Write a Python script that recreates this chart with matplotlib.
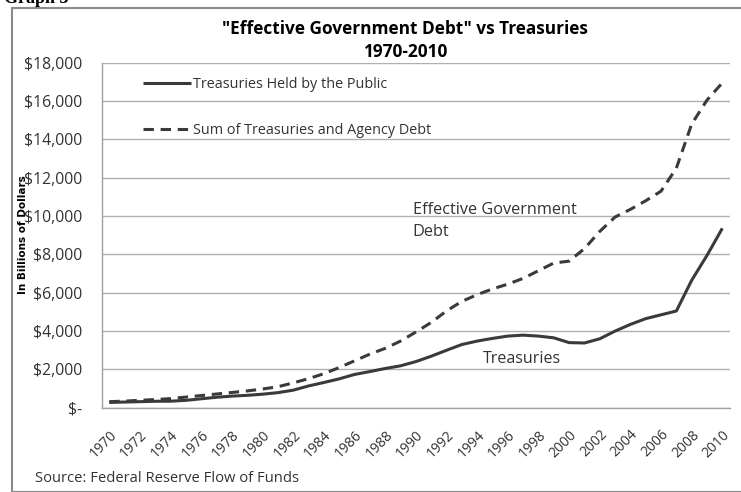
import numpy as np
import matplotlib
matplotlib.use("Agg")
import matplotlib.pyplot as plt
from matplotlib.patches import Rectangle

plt.rcParams['font.family'] = ['Open Sans', 'DejaVu Sans']

years = list(range(1970, 2011))

# Treasuries held by the public, billions of dollars
treasuries = [280, 300, 320, 340, 345, 390, 470, 550, 610, 650,
              710, 790, 920, 1140, 1320, 1510, 1740, 1890, 2050, 2190,
              2410, 2690, 3000, 3300, 3480, 3620, 3740, 3790, 3740, 3650,
              3400, 3380, 3600, 4000, 4350, 4650, 4850, 5050, 6650, 7950,
              9360]

# Treasuries + agency debt
effective = [320, 350, 390, 430, 480, 560, 640, 720, 800, 880,
             980, 1100, 1300, 1520, 1780, 2100, 2450, 2800, 3100, 3480,
             3950, 4450, 5050, 5550, 5900, 6200, 6450, 6750, 7150, 7550,
             7650, 8300, 9200, 9950, 10350, 10800, 11300, 12500, 14800, 16050,
             16950]

yticks = list(range(0, 18001, 2000))
ytick_labels = ["$-" if v == 0 else "${:,}".format(v) for v in yticks]

W, H = 741, 492
fig = plt.figure(figsize=(W / 100, H / 100), dpi=100)

# outer frame of the chart object
fig.patches.append(Rectangle((12 / W, 0), 1, 1 - 8 / H, transform=fig.transFigure,
                             fill=False, edgecolor='#8a8a8a', linewidth=1.5))
fig.text(4 / W, 1 - 3 / H, "Graph 3", family='Liberation Serif', weight='bold',
         fontsize=13, va='baseline', ha='left')

ax = fig.add_axes([101.7 / W, 1 - 407.8 / H, (730 - 101.7) / W, 345.1 / H])

x = np.arange(len(years))
dark = '#3a3a3a'
ax.plot(x, treasuries, color=dark, linewidth=2.2, solid_capstyle='butt',
        label='Treasuries Held by the Public')
ax.plot(x, effective, color=dark, linewidth=2.2, dashes=(3.4, 2.2),
        label='Sum of Treasuries and Agency Debt')

ax.set_xlim(-0.5, len(years) - 0.5)
ax.set_ylim(0, 18000)
ax.set_yticks(yticks)
ax.set_yticklabels(ytick_labels, fontsize=11.3, color='#333333')
ax.set_xticks(x[::2])
ax.set_xticklabels([str(y) for y in years[::2]], rotation=45, ha='right',
                   rotation_mode='anchor', fontsize=10, color='#333333')
ax.tick_params(length=0)
ax.tick_params(axis='y', pad=14)
ax.tick_params(axis='x', pad=14)

ax.grid(axis='y', color='#b0b0b0', linewidth=1)
ax.set_axisbelow(True)
for s in ['top', 'right']:
    ax.spines[s].set_visible(False)
for s in ['left', 'bottom']:
    ax.spines[s].set_color('#a0a0a0')
    ax.spines[s].set_linewidth(1)

ax.legend(loc='upper left', bbox_to_anchor=(0.045, 0.995), frameon=False,
          fontsize=10.4, handlelength=3.3, handletextpad=0.15, labelspacing=2.1,
          labelcolor='#333333')

ax.text(19.8, 10750, "Effective Government\nDebt", fontsize=11.7, color='#333333',
        va='top', ha='left', linespacing=1.55)
ax.text(24.4, 2550, "Treasuries", fontsize=11.5, color='#333333', va='center', ha='left')

fig.text(405 / W, 1 - 40.5 / H, '"Effective Government Debt" vs Treasuries\n1970-2010',
         ha='center', va='center', fontsize=12.4, weight='bold', linespacing=1.4)

fig.text(35 / W, 1 - 478 / H, "Source: Federal Reserve Flow of Funds",
         fontsize=10.6, color='#333333', va='center', ha='left')

fig.text(23 / W, 1 - 235 / H, "In Billions of Dollars", rotation=90,
         family=['Liberation Sans Narrow', 'DejaVu Sans'], weight='bold',
         fontsize=7.5, ha='center', va='center')

fig.savefig("out.png", dpi=100)
